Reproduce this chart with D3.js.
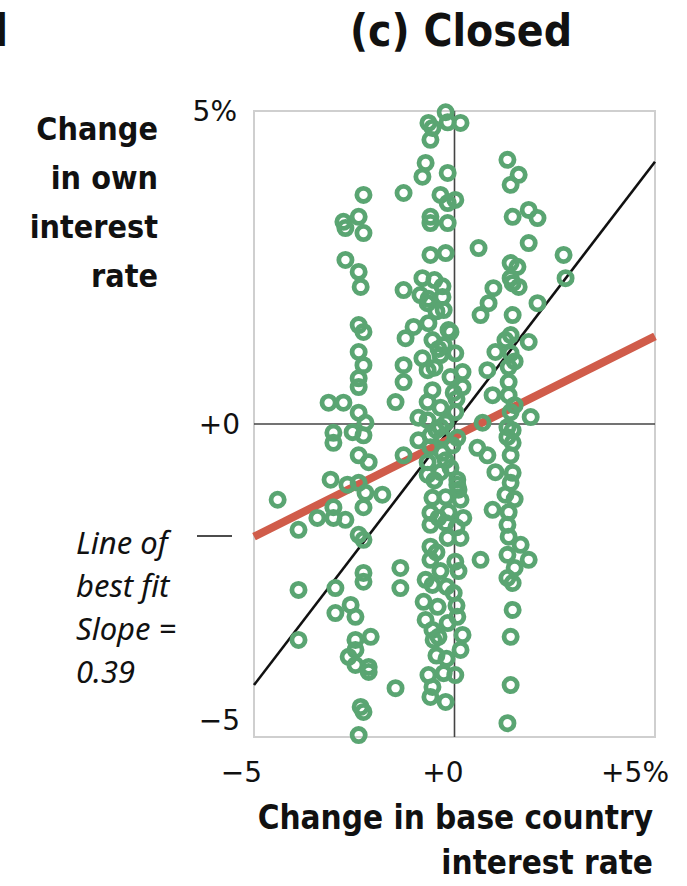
<!DOCTYPE html>
<html>
<head>
<meta charset="utf-8">
<script src="https://cdn.jsdelivr.net/npm/d3@7"></script>
<style>
  html, body { margin: 0; padding: 0; background: #fff; }
  svg { display: block; }
  .bold { font-family: "DejaVu Sans Condensed", "DejaVu Sans", sans-serif; font-stretch: condensed; font-weight: bold; fill: #111; }
  .tick { font-family: "DejaVu Sans", sans-serif; fill: #111; }
  .note { font-family: "Noto Sans", "Open Sans", sans-serif; font-style: italic; fill: #111; }
</style>
</head>
<body>
<svg id="chart" width="687" height="886"></svg>
<script>
// ---- data ----
const title = "(c) Closed";
const yTitle = ["Change", "in own", "interest", "rate"];
const xTitle = ["Change in base country", "interest rate"];
const note = ["Line of", "best fit", "Slope =", "0.39"];
const xTicks = [-5, 0, 5];
const xTickLabels = ["\u22125", "+0", "+5%"];
const yTicks = [-5, 0, 5];
const yTickLabels = ["\u22125", "+0", "5%"];
const referenceLine = [[-5, -4.17], [5, 4.19]];
const fitLine = [[-5, -1.8], [5, 1.4]];
// [change in base country rate, change in own rate]
const observations = [
  [-0.22,4.98],[-0.17,4.82],[0.15,4.81],[-0.65,4.81],[-0.55,4.73],[-0.6,4.54],[-0.72,4.17],[-0.8,3.95],
  [-0.17,4.01],[-0.35,3.66],[0.02,3.58],[-0.17,3.53],[-2.27,3.66],[-1.27,3.69],[-2.77,3.23],[-2.39,3.31],
  [-2.72,3.13],[-2.27,3.05],[-0.6,3.31],[-0.6,3.21],[-0.17,3.21],[-0.6,2.7],[-0.22,2.73],[-2.72,2.62],
  [-2.39,2.43],[-0.8,2.33],[-1.27,2.14],[-2.34,2.19],
  [1.32,4.22],[1.6,3.98],[1.4,3.82],[1.45,3.31],[1.85,3.42],[2.07,3.29],[1.85,2.89],[0.6,2.81],
  [1.4,2.57],[1.57,2.51],[1.4,2.33],[2.72,2.7],[2.77,2.33],[0.97,2.17],[1.6,2.19],
  [-0.85,2.06],[-0.67,1.93],[-0.3,2.03],[-0.27,1.82],[-2.39,1.58],[-2.27,1.47],[-1.02,1.55],[-1.22,1.37],
  [-0.65,1.61],[-0.55,1.34],[-0.1,1.47],[-2.39,1.15],[-2.27,0.94],[-0.8,1.05],[-0.67,0.86],[-0.35,1.1],
  [0.02,1.13],[-1.27,0.94],[-1.27,0.67],[-2.39,0.73],[-2.39,0.59],[-0.55,0.54],[-0.67,0.35],[-0.02,0.5],
  [0.2,0.59],[0.2,0.83],[-1.47,0.35],[-3.14,0.34],[-2.77,0.34],[-2.39,0.18],[-0.35,0.26],[0.02,0.19],
  [-0.9,0.1],[-0.67,0.06],[-0.35,-0.05],[-2.22,0.02],[-3.02,-0.14],[-3.02,-0.3],[-2.54,-0.13],[-2.27,-0.18],
  [-0.9,-0.26],[-0.6,-0.18],[-0.3,-0.21],[0.07,-0.22],[-0.6,-0.37],[-0.3,-0.46],[-1.27,-0.5],[-2.39,-0.5],
  [-2.14,-0.61],[-0.05,-0.34],[-0.67,-0.61],
  [1.45,2.25],[0.85,1.93],[0.65,1.74],[2.07,1.93],[1.45,1.74],[-0.15,1.5],[-0.27,1.26],[1.27,1.34],
  [1.4,1.42],[1.85,1.31],[1.02,1.15],[1.4,1.13],[0.82,0.86],[1.35,0.91],[1.35,0.67],[0.95,0.46],
  [1.35,0.46],[1.4,0.19],[1.9,0.11],[0.7,0.02],[-0.22,0.02],[1.32,-0.21],[1.32,-0.05],[1.45,-0.3],
  [0.57,-0.38],[0.82,-0.5],[1.02,-0.77],[1.45,-0.78],[0.07,-0.89],[-0.22,-0.58],
  [-4.41,-1.21],[-3.09,-0.89],[-2.67,-0.97],[-2.39,-0.94],[-2.22,-1.1],[-1.8,-1.13],[-2.27,-1.33],[-3.02,-1.33],
  [-3.42,-1.5],[-3.89,-1.69],[-3.02,-1.5],[-2.72,-1.53],[-2.39,-1.77],[-2.27,-1.85],[-0.67,-0.81],[-0.35,-0.77],
  [0.07,-0.97],[-0.55,-1.18],[-0.22,-1.17],[0.15,-1.21],[-0.6,-1.42],[-0.15,-1.41],[0.22,-1.5],[-0.6,-1.61],
  [-0.22,-1.58],[0.15,-1.82],[-0.17,-1.82],[-0.6,-1.96],[-0.6,-2.17],[0.02,-2.2],[-1.35,-2.3],[-1.35,-2.62],
  [-2.27,-2.38],[-2.27,-2.52],[-2.97,-2.62],[-3.89,-2.65],[-0.72,-2.49],[-0.55,-2.57],[-0.02,-2.7],[-0.77,-2.84],
  [-0.42,-2.92],[-2.59,-2.89],[-2.97,-3.02],[-2.47,-3.08],[0.07,-3.08],[-0.72,-3.13],[-0.17,-3.18],[0.2,-3.37],
  [-0.55,-3.29],[-0.52,-3.45],[-2.09,-3.4],[-2.47,-3.45],[-2.47,-3.61],[-3.89,-3.45],[-2.64,-3.72],[0.15,-3.61],
  [-2.47,-3.85],[-2.14,-3.88],
  [1.4,-0.94],[1.27,-1.13],[0.95,-1.37],[1.35,-1.41],[1.32,-1.61],[0.65,-2.17],[1.65,-1.93],[1.32,-2.09],
  [1.85,-2.17],[1.32,-2.46],[1.45,-2.54],[1.45,-2.97],[1.4,-3.4],
  [-2.14,-3.96],[-1.47,-4.22],[-0.65,-4.01],[-0.27,-3.98],[0.02,-4.01],[-0.55,-4.2],[-0.6,-4.36],[-0.22,-4.44],
  [-2.34,-4.52],[-2.27,-4.6],[-2.39,-4.97],[1.4,-4.17],[1.32,-4.78],
  [-0.45,1.8],[-0.4,1.2],[-0.5,0.9],[-0.1,0.75],[0.05,0.4],[-0.45,-0.1],[-0.1,-0.7],[-0.5,-0.9],
  [0.1,-1.05],[-0.4,-1.5],[0.05,-1.65],[-0.45,-2.05],[0.1,-2.35],[-0.35,-2.35],[-0.2,-2.6],[0.05,-2.9],
  [-0.4,-3.4],[-0.2,-3.75],[-0.45,-3.7],[1.5,1.0],[1.5,0.3],[1.45,-0.1],[1.4,-0.5],[1.5,-1.2],
  [1.35,-1.8],[1.5,-2.3],[-0.65,2.0],[-0.5,2.3],[-0.3,2.2]
];

// ---- drawing ----
const svg = d3.select("#chart");
const x = d3.scaleLinear().domain([-5, 5]).range([254, 655]);
const y = d3.scaleLinear().domain([-5, 5]).range([737, 111]);

// cut-off letter of the previous panel title (edge of the neighbouring panel)
svg.append("text").attr("class", "bold").attr("x", 8).attr("y", 46)
  .attr("text-anchor", "end").attr("font-size", 44).text("d");

svg.append("text").attr("class", "bold").attr("x", 461).attr("y", 46)
  .attr("text-anchor", "middle").attr("font-size", 44).text(title);

// frame
svg.append("rect")
  .attr("x", x(-5)).attr("y", y(5))
  .attr("width", x(5) - x(-5)).attr("height", y(-5) - y(5))
  .attr("fill", "none").attr("stroke", "#cfcfcf").attr("stroke-width", 2);

// zero axes
svg.append("line").attr("x1", x(0)).attr("x2", x(0)).attr("y1", y(5)).attr("y2", y(-5))
  .attr("stroke", "#444").attr("stroke-width", 1.6);
svg.append("line").attr("x1", x(-5)).attr("x2", x(5)).attr("y1", y(0)).attr("y2", y(0))
  .attr("stroke", "#444").attr("stroke-width", 1.6);

const line = d3.line().x(d => x(d[0])).y(d => y(d[1]));
svg.append("path").datum(referenceLine).attr("d", line)
  .attr("fill", "none").attr("stroke", "#111").attr("stroke-width", 2.6);
svg.append("path").datum(fitLine).attr("d", line)
  .attr("fill", "none").attr("stroke", "#d05c4a").attr("stroke-width", 8);

// points
svg.append("g").selectAll("circle").data(observations).join("circle")
  .attr("cx", d => x(d[0])).attr("cy", d => y(d[1])).attr("r", 6.6)
  .attr("fill", "none").attr("stroke", "#5aa572").attr("stroke-width", 4.8);

// x tick labels
const xOff = [8, 9, 14];
svg.append("g").selectAll("text").data(xTicks).join("text")
  .attr("class", "tick").attr("font-size", 28).attr("text-anchor", "end")
  .attr("x", (d, i) => x(d) + xOff[i]).attr("y", 782)
  .text((d, i) => xTickLabels[i]);

// y tick labels
const yOff = [-17, 0, 0];
svg.append("g").selectAll("text").data(yTicks).join("text")
  .attr("class", "tick").attr("font-size", 28).attr("text-anchor", "end")
  .attr("x", (d, i) => i === 2 ? 237 : 240)
  .attr("y", (d, i) => y(d) + yOff[i]).attr("dy", "0.36em")
  .text((d, i) => yTickLabels[i]);

// y title
svg.append("g").selectAll("text").data(yTitle).join("text")
  .attr("class", "bold").attr("font-size", 32).attr("text-anchor", "end")
  .attr("x", 158).attr("y", (d, i) => 140 + i * 49).text(d => d);

// x title
svg.append("g").selectAll("text").data(xTitle).join("text")
  .attr("class", "bold").attr("font-size", 33).attr("text-anchor", "end")
  .attr("x", 653).attr("y", (d, i) => 829 + i * 45).text(d => d);

// annotation
svg.append("g").selectAll("text").data(note).join("text")
  .attr("class", "note").attr("font-size", 31).attr("text-anchor", "start")
  .attr("x", 76).attr("y", (d, i) => 554 + i * 43).text(d => d);
svg.append("line").attr("x1", 197).attr("x2", 232).attr("y1", 536).attr("y2", 536)
  .attr("stroke", "#111").attr("stroke-width", 1.5);
</script>
</body>
</html>
